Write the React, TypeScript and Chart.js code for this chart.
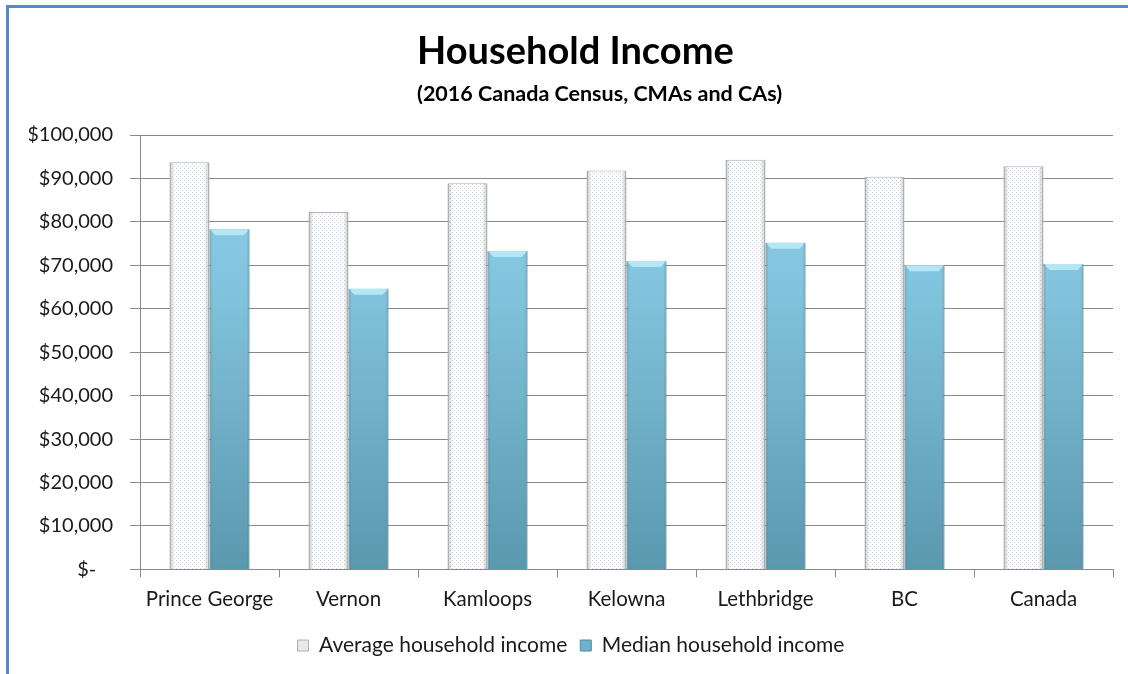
import React, { useEffect, useRef } from "react";
import { Chart, registerables } from "chart.js";

Chart.register(...registerables);

const categories = ["Prince George", "Vernon", "Kamloops", "Kelowna", "Lethbridge", "BC", "Canada"];
const averageIncome = [93700, 82300, 88900, 91800, 94300, 90400, 92800];
const medianIncome = [78300, 64600, 73300, 71000, 75200, 70000, 70300];
const seriesNames = ["Average household income", "Median household income"];
const titleText = "Household Income";
const subtitleText = "(2016 Canada Census, CMAs and CAs)";
const yMax = 100000;
const yStep = 10000;

const FONT = "Lato, 'Open Sans', sans-serif";

function fmt(v: number) {
  if (v === 0) return "$-\u2007 ";
  return "$" + v.toLocaleString("en-US");
}

export default function App() {
  const ref = useRef<HTMLCanvasElement>(null);
  useEffect(() => {
    const canvas = ref.current!;
    const pc = document.createElement("canvas");
    pc.width = 4;
    pc.height = 4;
    const pctx = pc.getContext("2d")!;
    pctx.fillStyle = "#fbfcfd";
    pctx.fillRect(0, 0, 4, 4);
    pctx.fillStyle = "#d3d9e0";
    pctx.fillRect(0, 0, 1, 1);
    pctx.fillRect(2, 2, 1, 1);
    const pattern = canvas.getContext("2d")!.createPattern(pc, "repeat")!;

    const medianFill = (ctx: any) => {
      const chart = ctx.chart;
      const area = chart.chartArea;
      if (!area) return "#79b8cf";
      const g = chart.ctx.createLinearGradient(0, area.top, 0, area.bottom);
      g.addColorStop(0, "#8fd0ea");
      g.addColorStop(0.35, "#82c4dd");
      g.addColorStop(1, "#5a98ae");
      return g;
    };

    const header = {
      id: "header",
      afterDraw(chart: any, _args: any, opts: any) {
        const c = chart.ctx;
        c.save();
        c.fillStyle = "#000";
        c.textAlign = "left";
        c.textBaseline = "alphabetic";
        c.font = `bold 38px ${FONT}`;
        c.fillText(opts.title, opts.x, opts.titleY);
        c.font = `bold 21.5px ${FONT}`;
        c.fillText(opts.subtitle, opts.x, opts.subtitleY);
        c.restore();
      },
    };

    const bevel = {
      id: "bevel",
      afterDatasetsDraw(chart: any) {
        const c = chart.ctx;
        c.save();
        chart.getDatasetMeta(0).data.forEach((bar: any) => {
          const l = bar.x - bar.width / 2;
          const r = bar.x + bar.width / 2;
          const t = bar.y;
          c.fillStyle = "rgba(120,120,120,0.18)";
          c.fillRect(l + 2, t + 1, 2, bar.base - t - 1);
          c.fillRect(r - 4, t + 1, 2, bar.base - t - 1);
        });
        chart.getDatasetMeta(1).data.forEach((bar: any) => {
          const l = bar.x - bar.width / 2;
          const r = bar.x + bar.width / 2;
          const t = bar.y;
          const d = 6;
          c.beginPath();
          c.moveTo(l, t);
          c.lineTo(r, t);
          c.lineTo(r - d, t + d);
          c.lineTo(l + d, t + d);
          c.closePath();
          c.fillStyle = "#b5e6f6";
          c.fill();
          c.fillStyle = "rgba(60,110,130,0.25)";
          c.fillRect(l, t, 2, bar.base - t);
          c.fillRect(r - 2, t, 2, bar.base - t);
        });
        c.restore();
      },
    };

    const chart = new Chart(canvas, {
      type: "bar",
      data: {
        labels: categories,
        datasets: [
          {
            label: seriesNames[0],
            data: averageIncome,
            backgroundColor: pattern,
            borderColor: "#b0b0b0",
            borderWidth: { left: 2, right: 2, top: 1, bottom: 0 },
            borderSkipped: "start",
            categoryPercentage: 0.576,
            barPercentage: 1,
          },
          {
            label: seriesNames[1],
            data: medianIncome,
            backgroundColor: medianFill,
            borderColor: "#5a92a6",
            borderWidth: 1,
            borderSkipped: "start",
            categoryPercentage: 0.576,
            barPercentage: 1,
          },
        ],
      },
      options: {
        responsive: false,
        animation: false,
        layout: { padding: { left: 29, right: 15, top: 135, bottom: 8 } },
        scales: {
          x: {
            grid: {
              display: true,
              drawOnChartArea: false,
              drawTicks: true,
              tickLength: 8,
              color: "#8a8a8a",
              offset: true,
            },
            border: { display: true, color: "#8a8a8a", width: 1 },
            ticks: {
              color: "#1a1a1a",
              font: { family: FONT, size: 20.5 },
              padding: 10,
              maxRotation: 0,
            },
          },
          y: {
            min: 0,
            max: yMax,
            afterFit: (s: any) => {
              s.width = 111;
            },
            grid: {
              color: "#8a8a8a",
              tickLength: 10,
              drawTicks: true,
            },
            border: { display: true, color: "#8a8a8a", width: 1 },
            ticks: {
              stepSize: yStep,
              color: "#1a1a1a",
              font: { family: FONT, size: 20 },
              padding: 17,
              callback: (v: any) => fmt(Number(v)),
            },
          },
        },
        plugins: {
          title: { display: false },
          subtitle: { display: false },
          header: {
            title: titleText,
            subtitle: subtitleText,
            x: 417,
            titleY: 64,
            subtitleY: 101,
          },
          legend: {
            position: "bottom",
            labels: {
              color: "#1a1a1a",
              font: { family: FONT, size: 21 },
              boxWidth: 11,
              boxHeight: 11,
              padding: 13,
              generateLabels: (ch: any) =>
                ch.data.datasets.map((ds: any, i: number) => ({
                  text: ds.label,
                  fillStyle: i === 0 ? "#e6e9ec" : "#6fb2c9",
                  strokeStyle: i === 0 ? "#b0b0b0" : "#4d8aa0",
                  lineWidth: 1,
                  datasetIndex: i,
                  hidden: !ch.isDatasetVisible(i),
                  fontColor: "#1a1a1a",
                })),
            },
          },
          tooltip: { enabled: false },
        } as any,
      },
      plugins: [bevel, header],
    });
    return () => chart.destroy();
  }, []);

  return (
    <div style={{ position: "absolute", left: 0, top: 0, width: 1128, height: 674, background: "#fff", overflow: "hidden" }}>
      <canvas ref={ref} width={1128} height={674} style={{ position: "absolute", left: 0, top: 0 }} />
      <div
        style={{
          position: "absolute",
          left: 6,
          top: 5,
          width: 1200,
          height: 800,
          borderLeft: "3px solid #5a87c5",
          borderTop: "3px solid #5a87c5",
          pointerEvents: "none",
        }}
      />
    </div>
  );
}
